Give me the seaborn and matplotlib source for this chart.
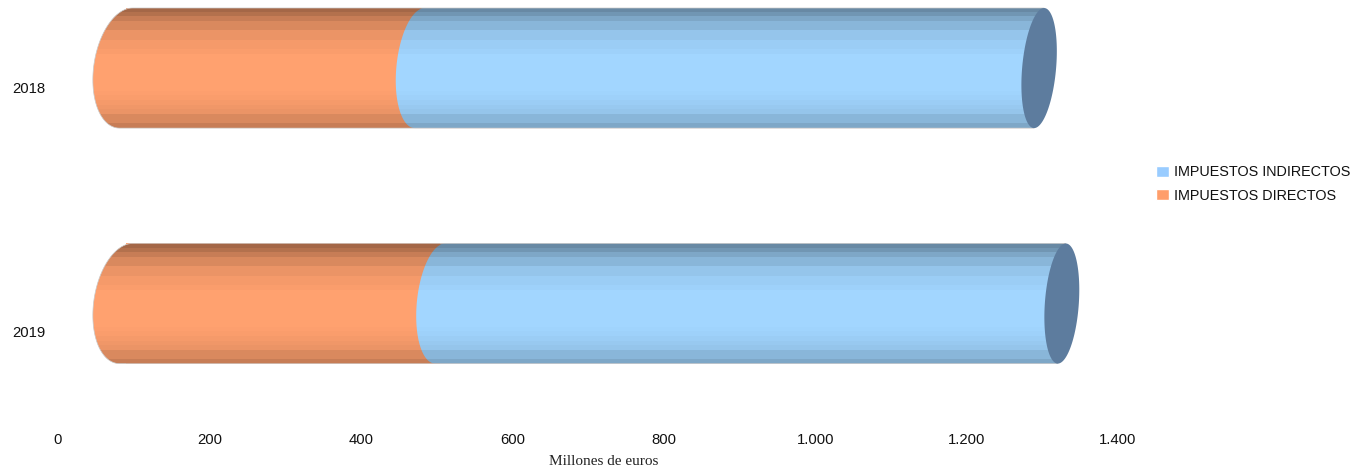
import numpy as np
import pandas as pd
import matplotlib
matplotlib.use("Agg")
import matplotlib.pyplot as plt
import matplotlib.transforms as mtrans
from matplotlib.patches import PathPatch
from matplotlib.path import Path
import seaborn as sns

years = ["2018", "2019"]
directos = [388, 415]
indirectos = [818, 821]
x_ticks = [0, 200, 400, 600, 800, 1000, 1200, 1400]
x_labels = ["0", "200", "400", "600", "800", "1.000", "1.200", "1.400"]
name_ind = "IMPUESTOS INDIRECTOS"
name_dir = "IMPUESTOS DIRECTOS"

ORANGE = "#ffa16f"
BLUE = "#a2d6ff"
CAP = "#5d7c9e"
LEG_ORANGE = "#ff9e6b"
LEG_BLUE = "#99ccff"
# darkening of the tube from its top edge to its bottom edge
shade = [0.36, 0.30, 0.22, 0.15, 0.15, 0.08, 0.08, 0.04, 0.04, 0.02, 0, 0, 0, 0, 0, 0, 0, 0, 0.01, 0.02, 0.04,
         0.06, 0.08, 0.15, 0.15, 0.22]

W, H = 1359, 474
sns.set_theme(style="white")
plt.rcParams["font.family"] = ["Liberation Sans", "DejaVu Sans"]

df = pd.DataFrame({"year": years, "dir": directos, "ind": indirectos})

fig = plt.figure(figsize=(W / 100, H / 100), dpi=100)
ax = fig.add_axes([58 / W, 1 - 430 / H, 1060 / W, 430 / H])

BAR_H = 0.51
sns.barplot(df, x="dir", y="year", order=years, color=ORANGE, saturation=1, width=BAR_H, ax=ax, zorder=2)
sns.barplot(df, x="ind", y="year", order=years, color=BLUE, saturation=1, width=BAR_H, ax=ax,
            left=df["dir"].to_numpy(), zorder=4)

ax.set_xlim(0, 1400)
ax.set_ylim(1.537, -0.289)
px_x = 1060 / 1400
px_y = 235.5

# the 3D look of the original pushes the tubes to the right of the axis
shift = mtrans.ScaledTranslation(68 / 100, 0, fig.dpi_scale_trans)
tr = ax.transData + shift


def ellipse_pts(cx, yc, half_w, skew, t):
    # half_w and skew are in pixels, t runs round the ellipse
    x = cx + (half_w * np.cos(t) + skew * np.sin(t)) / px_x
    y = yc - BAR_H / 2 * np.sin(t)
    return np.column_stack([x, y])


def tube_path(x0, x1, yc, w0, s0, s1):
    t = np.linspace(np.pi / 2, 3 * np.pi / 2, 60)
    left = ellipse_pts(x0, yc, w0, s0, t)
    right = np.array([[x1 - s1 / px_x, yc + BAR_H / 2], [x1 + s1 / px_x, yc - BAR_H / 2]])
    return Path(np.vstack([left, right, left[:1]]))


for p in ax.patches:
    p.set_transform(tr)
    p.set_linewidth(0)

blue_bars = ax.patches[len(years):]

for i, year in enumerate(years):
    d, total = directos[i], directos[i] + indirectos[i]
    s_end = 5 if i == 0 else 4
    full = tube_path(0, total, i, 32.5, 6.5, s_end)
    t = np.linspace(0, 2 * np.pi, 120)
    ax.add_patch(PathPatch(full, fc=ORANGE, ec="none", transform=tr, zorder=1))
    # trim the blue bar so its start follows the slanted ellipse
    blue_clip = PathPatch(tube_path(d, total, i, 23.5, 5, s_end), fc=BLUE, ec="none", transform=tr, zorder=5)
    ax.add_patch(blue_clip)
    blue_bars[i].set_clip_path(blue_clip)

    # horizontal bands, cut to the tube outline
    alpha = np.zeros((len(shade), 1, 4))
    alpha[:, 0, 3] = shade
    clip = PathPatch(full, transform=tr, fc="none", ec="#c9c9c9", lw=0.5, zorder=7)
    ax.add_patch(clip)
    im = ax.imshow(alpha, extent=(-60, total + 10, i + BAR_H / 2, i - BAR_H / 2), aspect="auto",
                   interpolation="nearest", zorder=6)
    im.set_transform(tr)
    im.set_clip_path(clip)

    ax.add_patch(PathPatch(Path(ellipse_pts(total, i, 17, s_end, t)), fc=CAP, ec="none",
                           transform=tr, zorder=8))
    # restore limits after imshow
    ax.set_xlim(0, 1400)
    ax.set_ylim(1.537, -0.289)

# year labels sit a little below the middle of each tube
ax.set_yticks([(87 - 68) / px_y, (331 - 68) / px_y], years)
ax.set_xticks(x_ticks, x_labels)
ax.tick_params(axis="both", length=0, labelsize=10.7, labelcolor="#111111")
ax.tick_params(axis="x", pad=2)
ax.tick_params(axis="y", pad=9)
ax.set_ylabel("")
ax.set_xlabel("Millones de euros", family="Liberation Serif", fontsize=11, color="#222222")
ax.xaxis.set_label_coords(546 / 1060, -25 / 430)
sns.despine(ax=ax, left=True, bottom=True)
ax.patch.set_alpha(0)

handles = [plt.Rectangle((0, 0), 1, 1, fc=LEG_BLUE), plt.Rectangle((0, 0), 1, 1, fc=LEG_ORANGE)]
fig.legend(handles, [name_ind, name_dir], loc="upper left", bbox_to_anchor=(1152 / W, 1 - 161 / H),
           bbox_transform=fig.transFigure, frameon=False, fontsize=10.4, handlelength=0.85, handleheight=0.85,
           handletextpad=0.4, labelspacing=0.65, borderpad=0.3, borderaxespad=0, labelcolor="#111111")

fig.savefig("out.png", dpi=100)
